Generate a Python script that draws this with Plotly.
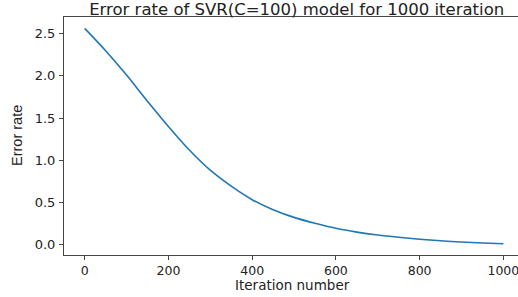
import plotly.graph_objects as go

iterations = [0, 50, 100, 150, 200, 250, 300, 350, 400, 450, 500,
              550, 600, 650, 700, 750, 800, 850, 900, 950, 1000]
error_rate = [2.565, 2.30, 2.01, 1.70, 1.40, 1.12, 0.88, 0.69, 0.53, 0.41, 0.32,
              0.25, 0.19, 0.145, 0.11, 0.083, 0.06, 0.042, 0.027, 0.015, 0.007]
x_ticks = [0, 200, 400, 600, 800, 1000]
y_ticks = [0.0, 0.5, 1.0, 1.5, 2.0, 2.5]
y_tick_text = ["0.0", "0.5", "1.0", "1.5", "2.0", "2.5"]

W, H = 518, 297
L, R, T, B = 64, 0, 17, 42
pw, ph = W - L - R, H - T - B

fig = go.Figure()
fig.add_trace(go.Scatter(x=iterations, y=error_rate, mode="lines",
                         line=dict(color="#1f77b4", width=1.6, shape="spline", smoothing=0.8),
                         showlegend=False))

fig.update_layout(
    width=W, height=H,
    margin=dict(l=L, r=R, t=T, b=B),
    paper_bgcolor="white", plot_bgcolor="white",
    font=dict(family="DejaVu Sans", size=13, color="#222"),
    title=dict(text="Error rate of SVR(C=100) model for 1000 iteration",
               x=296.7 / W, xanchor="center", xref="container",
               y=1 - 9 / H, yanchor="middle", yref="container",
               font=dict(size=16.5, color="#222")),
    xaxis=dict(range=[-49.4, 1035], tickvals=x_ticks, showgrid=False, zeroline=False,
               showline=True, linecolor="#444", linewidth=1, mirror=True,
               ticks="outside", ticklen=4, tickcolor="#444",
               tickfont=dict(size=12.5, color="#222"), automargin=False,
               ticklabeloverflow="allow", ticklabelstandoff=0),
    yaxis=dict(range=[-0.127, 2.70], tickvals=y_ticks, ticktext=y_tick_text,
               showgrid=False, zeroline=False,
               showline=True, linecolor="#444", linewidth=1,
               ticks="outside", ticklen=4, tickcolor="#444",
               tickfont=dict(size=13, color="#222"), automargin=False,
               ticklabelstandoff=1),
    annotations=[
        dict(text="Iteration number", xref="paper", yref="paper",
             x=(292.5 - L) / pw, y=(H - B - 284.5) / ph, xanchor="center", yanchor="middle",
             showarrow=False, font=dict(size=13.5, color="#222")),
        dict(text="Error rate", xref="paper", yref="paper",
             x=(17 - L) / pw, y=(H - B - 136) / ph, xanchor="center", yanchor="middle",
             textangle=-90, showarrow=False,
             font=dict(family="Liberation Sans Narrow, Liberation Sans", size=14.5, color="#222")),
    ],
)

fig.write_html("out.html", config={"displayModeBar": False},
               post_script="document.body.style.margin='0';document.body.style.overflow='hidden';")
